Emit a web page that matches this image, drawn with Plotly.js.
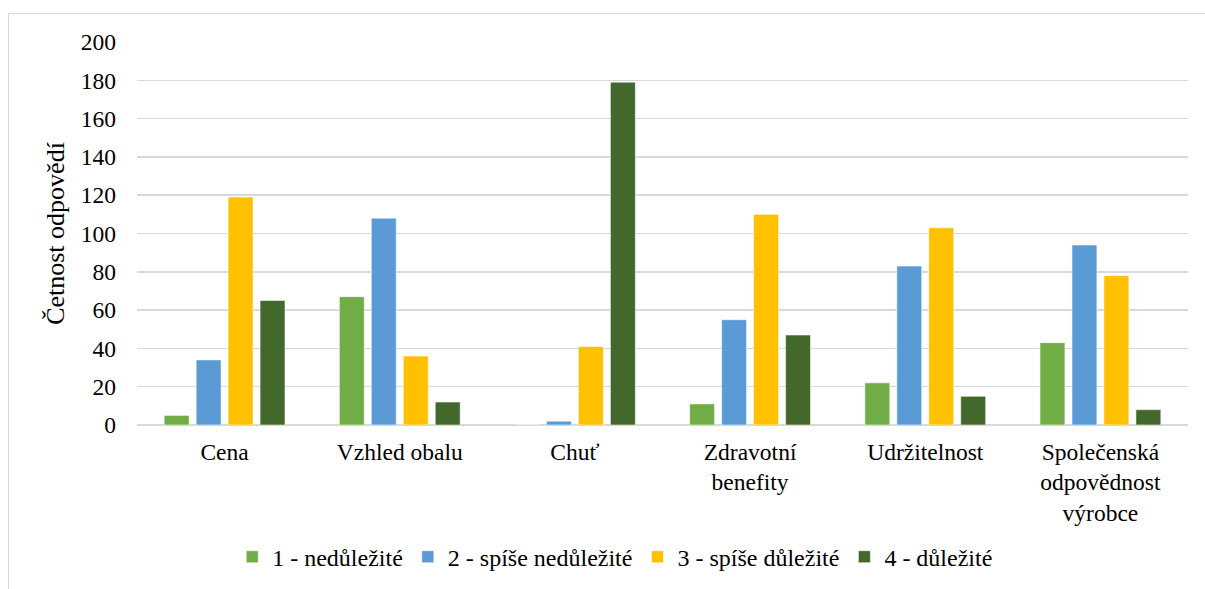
<!DOCTYPE html>
<html>
<head>
<meta charset="utf-8">
<script src="https://cdn.plot.ly/plotly-3.0.1.min.js"></script>
<style>
  html, body { margin: 0; padding: 0; background: #fff; }
  #chart { position: absolute; left: 0; top: 0; width: 1205px; height: 589px; }
  #frame { position: absolute; left: 8px; top: 13px; width: 1197px; height: 576px;
           border-left: 1.5px solid #d9d9d9; border-top: 1.5px solid #d9d9d9; pointer-events: none; }
</style>
</head>
<body>
<div id="chart"></div>
<div id="frame"></div>
<script>
const categories = ["Cena", "Vzhled obalu", "Chuť", "Zdravotní<br>benefity", "Udržitelnost", "Společenská<br>odpovědnost<br>výrobce"];
const seriesNames = ["1 - nedůležité", "2 - spíše nedůležité", "3 - spíše důležité", "4 - důležité"];
const s1 = [5, 67, 0, 11, 22, 43];
const s2 = [34, 108, 2, 55, 83, 94];
const s3 = [119, 36, 41, 110, 103, 78];
const s4 = [65, 12, 179, 47, 15, 8];
const colors = ["#70AD47", "#5B9BD5", "#FFC000", "#43682B"];

const values = [s1, s2, s3, s4];
const traces = values.map((v, i) => ({
  type: "bar",
  name: seriesNames[i],
  x: categories,
  y: v,
  marker: { color: colors[i], line: { color: "rgba(255,255,255,0.55)", width: 1 } }
}));

const fam = "Liberation Serif";
const layout = {
  width: 1205, height: 589,
  margin: { l: 137, r: 17, t: 42, b: 164, autoexpand: false },
  paper_bgcolor: "#ffffff", plot_bgcolor: "#ffffff",
  font: { family: fam, size: 23, color: "#000000" },
  barmode: "group",
  bargap: 0.27,
  bargroupgap: 0.22,
  showlegend: true,
  legend: {
    orientation: "h", x: 0.455, xanchor: "center", y: -0.345, yanchor: "middle",
    font: { family: fam, size: 24, color: "#000000" },
    traceorder: "normal"
  },
  xaxis: {
    type: "category",
    showline: false, showgrid: false, zeroline: false,
    ticks: "", ticklabelstandoff: 10,
    tickfont: { family: fam, size: 23.5, color: "#000000" }
  },
  yaxis: {
    range: [0, 200], dtick: 20, tick0: 0,
    showgrid: true, gridcolor: "#d9d9d9", gridwidth: 1.5,
    zeroline: true, zerolinecolor: "#d9d9d9", zerolinewidth: 1.5,
    showline: false, ticks: "", ticklabelstandoff: 20,
    tickfont: { family: fam, size: 23.5, color: "#000000" },
    title: { text: "Četnost odpovědí", font: { family: fam, size: 26, color: "#000000" }, standoff: 8 }
  }
};

Plotly.newPlot("chart", traces, layout, { displayModeBar: false, staticPlot: true });
</script>
</body>
</html>
